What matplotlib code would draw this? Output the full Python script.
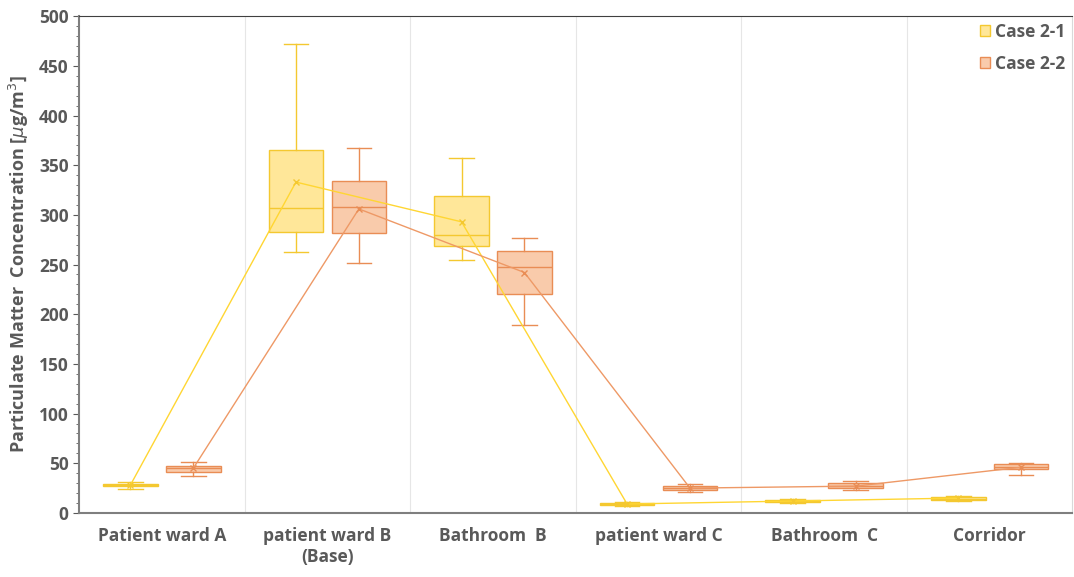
import numpy as np
import matplotlib
matplotlib.use("Agg")
import matplotlib.pyplot as plt
from matplotlib.ticker import MultipleLocator
from matplotlib.patches import Patch

plt.rcParams['font.family'] = ['Open Sans', 'DejaVu Sans']

# categories and box statistics
categories = ["Patient ward A", "patient ward B\n(Base)", "Bathroom  B",
              "patient ward C", "Bathroom  C", "Corridor"]

# Case 2-1
c1_whislo = [24, 263, 255, 7, 10, 12]
c1_q1 = [27, 283, 269, 8, 11, 13]
c1_med = [28, 307, 280, 9, 12, 14]
c1_q3 = [29, 365, 319, 10, 13, 16]
c1_whishi = [31, 472, 357, 11, 14, 17]
c1_mean = [28, 333, 293, 9, 12, 15]

# Case 2-2
c2_whislo = [37, 252, 189, 21, 23, 38]
c2_q1 = [41, 282, 220, 23, 25, 44]
c2_med = [45, 308, 248, 25, 27, 46]
c2_q3 = [47, 334, 264, 27, 30, 49]
c2_whishi = [51, 367, 277, 29, 32, 50]
c2_mean = [45, 306, 242, 25, 27, 46]

yel_face, yel_edge = '#FFE799', '#F4C830'
ora_face, ora_edge = '#F9CBAB', '#E98D55'
grey = '#595959'

fig = plt.figure(figsize=(10.74, 5.77), dpi=100)
ax = fig.add_axes([0.0736, 0.111, 0.925, 0.861])

x = np.arange(len(categories))
off = 0.19
width = 0.33


def make_stats(lo, q1, med, q3, hi, mean):
    return [dict(whislo=a, q1=b, med=c, q3=d, whishi=e, mean=f, fliers=[])
            for a, b, c, d, e, f in zip(lo, q1, med, q3, hi, mean)]


for stats, pos, face, edge in [
        (make_stats(c1_whislo, c1_q1, c1_med, c1_q3, c1_whishi, c1_mean), x - off, yel_face, yel_edge),
        (make_stats(c2_whislo, c2_q1, c2_med, c2_q3, c2_whishi, c2_mean), x + off, ora_face, ora_edge)]:
    ax.bxp(stats, positions=pos, widths=width, patch_artist=True, showmeans=False,
           boxprops=dict(facecolor=face, edgecolor=edge, linewidth=1.0),
           medianprops=dict(color=edge, linewidth=1.0),
           whiskerprops=dict(color=edge, linewidth=1.0),
           capprops=dict(color=edge, linewidth=1.0),
           capwidths=width * 0.45, manage_ticks=False)

ax.plot(x - off, c1_mean, color='#FFD633', lw=1.0, marker='x', ms=5, mec=yel_edge, zorder=5)
ax.plot(x + off, c2_mean, color='#EE9966', lw=1.0, marker='x', ms=5, mec=ora_edge, zorder=5)

ax.set_xlim(-0.5, len(categories) - 0.5)
ax.set_ylim(0, 500)
ax.set_xticks(x)
ax.set_xticklabels(categories, fontsize=12.5, fontweight='bold', color=grey)
ax.tick_params(axis='x', length=0, pad=10)
ax.yaxis.set_major_locator(MultipleLocator(50))
ax.yaxis.set_minor_locator(MultipleLocator(10))
ax.tick_params(axis='y', which='major', labelsize=12.5, labelcolor=grey, length=4, color=grey)
ax.tick_params(axis='y', which='minor', length=2.5, color=grey)
for lab in ax.get_yticklabels():
    lab.set_fontweight('bold')

for b in np.arange(0.5, len(categories) - 0.5, 1):
    ax.axvline(b, color='#E6E6E6', lw=0.8, zorder=0)

for s in ['left', 'bottom']:
    ax.spines[s].set_color('#7F7F7F')
    ax.spines[s].set_linewidth(1.5)
ax.spines['top'].set_color('#404040')
ax.spines['top'].set_linewidth(0.8)
ax.spines['right'].set_color('#D9D9D9')

ax.set_ylabel(r"Particulate Matter  Concentration [$\mu$g/m$^3$]", fontsize=13,
              fontweight='bold', color=grey, labelpad=6)

handles = [Patch(facecolor=yel_face, edgecolor=yel_edge, label='Case 2-1'),
           Patch(facecolor=ora_face, edgecolor=ora_edge, label='Case 2-2')]
leg = ax.legend(handles=handles, loc='upper right', frameon=False, fontsize=12.5,
                handlelength=0.6, handleheight=0.6, handletextpad=0.3,
                labelspacing=0.8, borderaxespad=0.0)
for t in leg.get_texts():
    t.set_color(grey)
    t.set_fontweight('bold')

fig.savefig("out.png", dpi=100)
